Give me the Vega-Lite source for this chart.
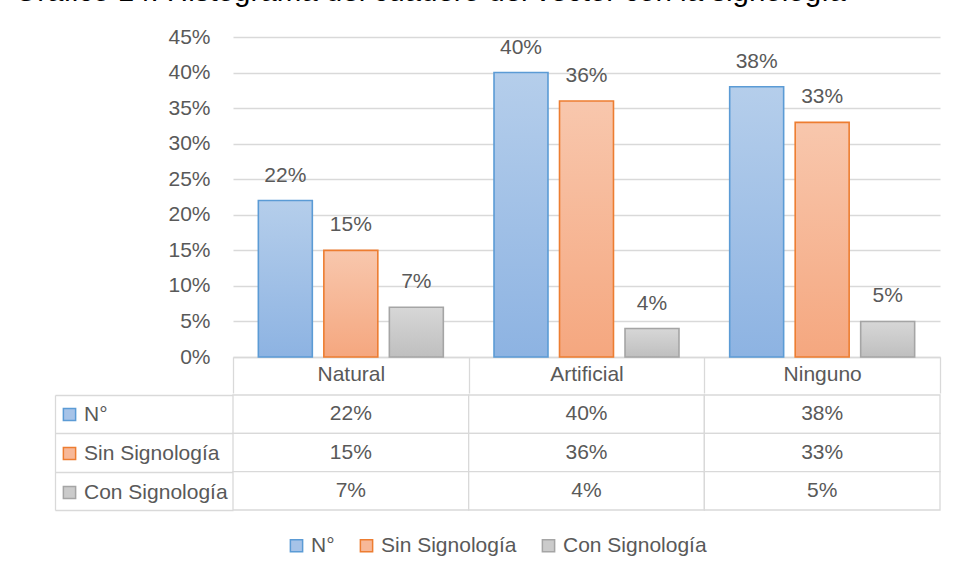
{
  "$schema": "https://vega.github.io/schema/vega-lite/v6.json",
  "padding": {"left": 14, "top": -24, "right": 5, "bottom": 5},
  "spacing": 0,
  "title": {
    "text": "Gráfico 14: Histograma del cuadero del vector con la signología",
    "anchor": "start",
    "fontSize": 29.5,
    "fontWeight": "normal",
    "color": "#000000",
    "font": "Liberation Sans",
    "offset": 19,
    "dx": -40
  },
  "data": {
    "values": [
      {"categoria": "Natural", "serie": "N°", "valor": 0.22},
      {"categoria": "Natural", "serie": "Sin Signología", "valor": 0.15},
      {"categoria": "Natural", "serie": "Con Signología", "valor": 0.07},
      {"categoria": "Artificial", "serie": "N°", "valor": 0.40},
      {"categoria": "Artificial", "serie": "Sin Signología", "valor": 0.36},
      {"categoria": "Artificial", "serie": "Con Signología", "valor": 0.04},
      {"categoria": "Ninguno", "serie": "N°", "valor": 0.38},
      {"categoria": "Ninguno", "serie": "Sin Signología", "valor": 0.33},
      {"categoria": "Ninguno", "serie": "Con Signología", "valor": 0.05}
    ]
  },
  "vconcat": [
    {
      "width": 707,
      "height": 320,
      "encoding": {
        "x": {
          "field": "categoria", "type": "nominal",
          "sort": ["Natural", "Artificial", "Ninguno"],
          "scale": {"paddingInner": 0, "paddingOuter": 0},
          "axis": {
            "orient": "bottom", "title": null, "labelAngle": 0,
            "labelFontSize": 21, "labelColor": "#595959", "labelFont": "Liberation Sans",
            "labelPadding": -30,
            "domainColor": "#d9d9d9", "domainWidth": 1.3,
            "tickBand": "extent", "tickSize": 36, "tickColor": "#d9d9d9", "tickWidth": 1.3
          }
        },
        "xOffset": {
          "field": "serie", "type": "nominal",
          "sort": ["N°", "Sin Signología", "Con Signología"],
          "scale": {"domain": ["N°", "Sin Signología", "Con Signología"], "paddingInner": 0.176, "paddingOuter": 0.387}
        },
        "y": {
          "field": "valor", "type": "quantitative",
          "scale": {"domain": [0, 0.45], "nice": false},
          "axis": {
            "values": [0, 0.05, 0.1, 0.15, 0.2, 0.25, 0.3, 0.35, 0.4, 0.45],
            "format": ".0%", "title": null,
            "grid": true, "gridColor": "#d9d9d9", "gridWidth": 1.3,
            "domain": false, "ticks": false,
            "labelFontSize": 21, "labelColor": "#595959", "labelFont": "Liberation Sans",
            "labelPadding": 23
          }
        }
      },
      "layer": [
        {
          "transform": [{"filter": "datum.serie === 'N°'"}],
          "mark": {
            "type": "bar", "strokeWidth": 1.6, "stroke": "#5b9bd5",
            "fill": {"gradient": "linear", "x1": 0, "y1": 0, "x2": 0, "y2": 1,
              "stops": [{"offset": 0, "color": "#b5ceeb"}, {"offset": 1, "color": "#8db3e2"}]}
          }
        },
        {
          "transform": [{"filter": "datum.serie === 'Sin Signología'"}],
          "mark": {
            "type": "bar", "strokeWidth": 1.6, "stroke": "#ed7d31",
            "fill": {"gradient": "linear", "x1": 0, "y1": 0, "x2": 0, "y2": 1,
              "stops": [{"offset": 0, "color": "#f8c7ad"}, {"offset": 1, "color": "#f5a77f"}]}
          }
        },
        {
          "transform": [{"filter": "datum.serie === 'Con Signología'"}],
          "mark": {
            "type": "bar", "strokeWidth": 1.6, "stroke": "#a5a5a5",
            "fill": {"gradient": "linear", "x1": 0, "y1": 0, "x2": 0, "y2": 1,
              "stops": [{"offset": 0, "color": "#d7d7d7"}, {"offset": 1, "color": "#bfbfbf"}]}
          }
        },
        {
          "mark": {"type": "text", "baseline": "middle", "dy": -25, "fontSize": 21, "color": "#595959", "font": "Liberation Sans"},
          "encoding": {"text": {"field": "valor", "type": "quantitative", "format": ".0%"}}
        }
      ]
    },
    {
      "width": 707,
      "height": 115,
      "encoding": {
        "x": {
          "field": "categoria", "type": "nominal",
          "sort": ["Natural", "Artificial", "Ninguno"],
          "scale": {"paddingInner": 0, "paddingOuter": 0},
          "axis": null
        },
        "y": {
          "field": "serie", "type": "nominal",
          "sort": ["N°", "Sin Signología", "Con Signología"],
          "scale": {"paddingInner": 0, "paddingOuter": 0},
          "axis": {
            "orient": "left", "offset": 178, "labels": false, "title": null, "grid": false,
            "domainColor": "#d9d9d9", "domainWidth": 1.3,
            "tickBand": "extent", "tickSize": -178, "tickColor": "#d9d9d9", "tickWidth": 1.3
          }
        }
      },
      "layer": [
        {
          "mark": {"type": "point", "shape": "square", "filled": true, "size": 150, "strokeWidth": 1.5, "opacity": 1},
          "encoding": {
            "fill": {
              "field": "serie", "type": "nominal",
              "scale": {"domain": ["N°", "Sin Signología", "Con Signología"], "range": ["#a6c3e8", "#f7b898", "#cbcbcb"]},
              "legend": {"orient": "none", "legendX": -174, "legendY": 9, "direction": "vertical", "title": null,
                "symbolType": "square", "symbolSize": 150, "symbolStrokeWidth": 1.5,
                "labelFontSize": 21, "labelColor": "#595959", "labelFont": "Liberation Sans",
                "labelOffset": 4, "rowPadding": 17, "padding": 0}
            },
            "stroke": {
              "field": "serie", "type": "nominal",
              "scale": {"domain": ["N°", "Sin Signología", "Con Signología"], "range": ["#5b9bd5", "#ed7d31", "#a5a5a5"]},
              "legend": {"orient": "none", "legendX": -174, "legendY": 9, "direction": "vertical", "title": null,
                "symbolType": "square", "symbolSize": 150, "symbolStrokeWidth": 1.5,
                "labelFontSize": 21, "labelColor": "#595959", "labelFont": "Liberation Sans",
                "labelOffset": 4, "rowPadding": 17, "padding": 0}
            }
          }
        },
        {
          "mark": {"type": "point", "shape": "square", "filled": true, "size": 150, "strokeWidth": 1.5, "opacity": 1},
          "encoding": {
            "fill": {
              "field": "serie", "type": "nominal",
              "scale": {"domain": ["N°", "Sin Signología", "Con Signología"], "range": ["#a6c3e8", "#f7b898", "#cbcbcb"]},
              "legend": {"orient": "none", "legendX": 53, "legendY": 140, "direction": "horizontal", "title": null,
                "symbolType": "square", "symbolSize": 150, "symbolStrokeWidth": 1.5,
                "labelFontSize": 21, "labelColor": "#595959", "labelFont": "Liberation Sans",
                "labelOffset": 4, "columnPadding": 21, "padding": 0}
            },
            "stroke": {
              "field": "serie", "type": "nominal",
              "scale": {"domain": ["N°", "Sin Signología", "Con Signología"], "range": ["#5b9bd5", "#ed7d31", "#a5a5a5"]},
              "legend": {"orient": "none", "legendX": 53, "legendY": 140, "direction": "horizontal", "title": null,
                "symbolType": "square", "symbolSize": 150, "symbolStrokeWidth": 1.5,
                "labelFontSize": 21, "labelColor": "#595959", "labelFont": "Liberation Sans",
                "labelOffset": 4, "columnPadding": 21, "padding": 0}
            }
          }
        },
        {
          "mark": {"type": "rect", "fill": "#ffffff", "stroke": "#d9d9d9", "strokeWidth": 1.3}
        },
        {
          "mark": {"type": "text", "fontSize": 21, "color": "#595959", "font": "Liberation Sans"},
          "encoding": {"text": {"field": "valor", "type": "quantitative", "format": ".0%"}}
        }
      ],
      "resolve": {"scale": {"fill": "independent", "stroke": "independent"}}
    }
  ],
  "config": {
    "view": {"stroke": null},
    "font": "Liberation Sans"
  }
}
